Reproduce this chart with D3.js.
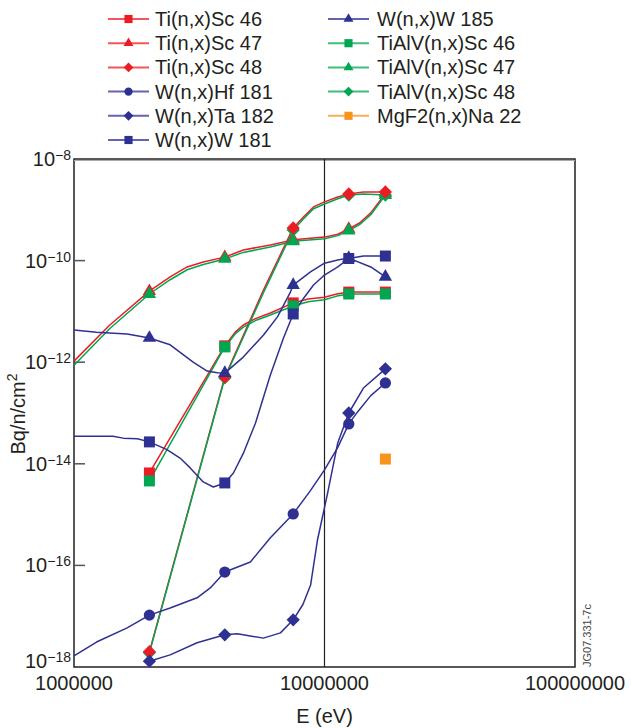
<!DOCTYPE html>
<html>
<head>
<meta charset="utf-8">
<script src="https://cdn.jsdelivr.net/npm/d3@7"></script>
<style>
  html, body { margin: 0; padding: 0; background: #fff; }
  svg { display: block; font-family: "Liberation Sans", Arial, Helvetica, sans-serif; }
</style>
</head>
<body>
<svg id="chart" width="631" height="728"></svg>
<script>
// energies where the markers sit
const markerE = [2e6, 4e6, 7.5e6, 12.5e6, 17.5e6];
const xTicks = [1e6, 1e7, 1e8];
const yTicks = [1e-8, 1e-10, 1e-12, 1e-14, 1e-16, 1e-18];

// [E (eV), Bq/n/cm2]
const tiSc46 = [[2e6,6.6e-15],[4e6,2.1e-12],[4.4e6,3.9e-12],[4.74e6,5.4e-12],[5.3e6,7.2e-12],[6.08e6,9.3e-12],[7.5e6,1.47e-11],[8.6e6,1.75e-11],[1e7,1.9e-11],[11.2e6,2.2e-11],[12.5e6,2.4e-11],[17.5e6,2.4e-11]];
const tiSc47 = [[1e6,1.05e-12],[1.39e6,5.4e-12],[2e6,2.5e-11],[2.42e6,4.8e-11],[2.83e6,7.5e-11],[3.28e6,9.4e-11],[4e6,1.17e-10],[4.74e6,1.62e-10],[6.08e6,2.03e-10],[7.5e6,2.56e-10],[1e7,2.9e-10],[11.3e6,3.3e-10],[12.5e6,4.2e-10],[13.8e6,5.5e-10],[15.3e6,8.7e-10],[17.5e6,2.1e-9]];
const tiSc48 = [[2e6,2.0e-18],[4e6,5.1e-13],[5.7e6,2.6e-11],[7.5e6,4.4e-10],[8.24e6,7.2e-10],[9.04e6,1.14e-9],[1e7,1.43e-9],[11.3e6,1.79e-9],[12.5e6,2.05e-9],[14.3e6,2.24e-9],[17.5e6,2.24e-9]];
const wHf181 = [[1e6,1.65e-18],[1.23e6,3.1e-18],[1.63e6,5.9e-18],[2e6,1.05e-17],[2.42e6,1.45e-17],[3.1e6,2.3e-17],[3.5e6,3.6e-17],[4e6,7.4e-17],[5.06e6,1.17e-16],[6.08e6,3.5e-16],[7.5e6,1.03e-15],[8.8e6,3.0e-15],[1e7,7.6e-15],[11.3e6,2.1e-14],[12.5e6,6.1e-14],[13.55e6,1.05e-13],[15.3e6,2.2e-13],[17.5e6,3.9e-13]];
const wTa182 = [[2e6,1.3e-18],[2.42e6,1.73e-18],[3.1e6,3.0e-18],[4e6,4.3e-18],[4.49e6,4.5e-18],[5.7e6,3.7e-18],[6.67e6,4.7e-18],[7.5e6,8.5e-18],[8.2e6,1.7e-17],[8.8e6,4.1e-17],[9.38e6,3.2e-16],[10.3e6,2.7e-15],[11.3e6,2.6e-14],[12.5e6,1.0e-13],[14.3e6,3.1e-13],[17.5e6,7.4e-13]];
const wW181 = [[1e6,3.5e-14],[1.43e6,3.5e-14],[1.57e6,3.2e-14],[1.79e6,3.1e-14],[2e6,2.7e-14],[2.35e6,1.9e-14],[2.65e6,1.3e-14],[2.91e6,8.3e-15],[3.28e6,4.4e-15],[3.6e6,3.5e-15],[4e6,4.2e-15],[4.33e6,6.6e-15],[4.74e6,1.6e-14],[5.3e6,6.3e-14],[6.08e6,5.6e-13],[6.86e6,3.0e-12],[7.5e6,8.9e-12],[8.24e6,1.8e-11],[9.04e6,3.3e-11],[1e7,5.2e-11],[11.3e6,7.5e-11],[12.5e6,1.1e-10],[14.3e6,1.23e-10],[17.5e6,1.23e-10]];
const wW185 = [[1e6,4.3e-12],[1.23e6,3.9e-12],[1.63e6,3.6e-12],[2e6,3.0e-12],[2.42e6,2.2e-12],[2.99e6,1.0e-12],[3.4e6,6.7e-13],[3.73e6,6.2e-13],[4e6,6.1e-13],[4.74e6,1.26e-12],[5.7e6,3.4e-12],[6.49e6,7.8e-12],[7.31e6,2.4e-11],[7.5e6,3.3e-11],[8.79e6,6.0e-11],[1e7,8.9e-11],[11.3e6,1.03e-10],[12.5e6,1.12e-10],[15.3e6,7.5e-11],[17.5e6,4.8e-11]];
const tialvSc46 = [[2e6,4.6e-15],[4e6,2.0e-12],[4.4e6,3.6e-12],[4.74e6,4.9e-12],[5.3e6,6.6e-12],[6.08e6,8.5e-12],[7.5e6,1.28e-11],[8.6e6,1.55e-11],[1e7,1.7e-11],[11.2e6,2.0e-11],[12.5e6,2.2e-11],[17.5e6,2.2e-11]];
const tialvSc47 = [[1e6,8.7e-13],[1.39e6,4.6e-12],[2e6,2.2e-11],[2.42e6,4.2e-11],[2.83e6,6.6e-11],[3.28e6,8.4e-11],[4e6,1.08e-10],[4.74e6,1.45e-10],[6.08e6,1.85e-10],[7.5e6,2.4e-10],[1e7,2.7e-10],[11.3e6,3.1e-10],[12.5e6,3.9e-10],[13.8e6,5.1e-10],[15.3e6,8.0e-10],[17.5e6,1.95e-9]];
const tialvSc48 = [[2e6,1.9e-18],[4e6,4.9e-13],[5.7e6,2.3e-11],[7.5e6,4.0e-10],[8.24e6,6.6e-10],[9.04e6,1.05e-9],[1e7,1.3e-9],[11.3e6,1.65e-9],[12.5e6,1.95e-9],[14.3e6,2.05e-9],[17.5e6,1.95e-9]];
const mgf2Na22 = [[17.5e6,1.24e-14]];

const RED = "#ED1C24", GREEN = "#00A651", NAVY = "#2E3192", ORANGE = "#F7941D";

const series = [
  { name: "Ti(n,x)Sc 46",     color: RED,    shape: "square",   data: tiSc46 },
  { name: "Ti(n,x)Sc 47",     color: RED,    shape: "triangle", data: tiSc47 },
  { name: "Ti(n,x)Sc 48",     color: RED,    shape: "diamond",  data: tiSc48 },
  { name: "W(n,x)Hf 181",     color: NAVY,   shape: "circle",   data: wHf181 },
  { name: "W(n,x)Ta 182",     color: NAVY,   shape: "diamond",  data: wTa182 },
  { name: "W(n,x)W 181",      color: NAVY,   shape: "square",   data: wW181 },
  { name: "W(n,x)W 185",      color: NAVY,   shape: "triangle", data: wW185 },
  { name: "TiAlV(n,x)Sc 46",  color: GREEN,  shape: "square",   data: tialvSc46 },
  { name: "TiAlV(n,x)Sc 47",  color: GREEN,  shape: "triangle", data: tialvSc47 },
  { name: "TiAlV(n,x)Sc 48",  color: GREEN,  shape: "diamond",  data: tialvSc48 },
  { name: "MgF2(n,x)Na 22",   color: ORANGE, shape: "square",   data: mgf2Na22 }
];
// drawing order: Ti first, green on top of red, navy on top of both
const lineOrder = [0,1,2,7,8,9,3,4,5,6,10];
const markOrder = [0,1,7,8,9,2,3,4,5,6,10];

const svg = d3.select("#chart");
const INK = "#231F20";
const L = 74, R = 575, T = 159, B = 667;

const x = d3.scaleLog().domain([1e6, 1e8]).range([L, R]);
const y = d3.scaleLog().domain([1e-18, 1e-8]).range([B, T]);

function symbolPath(shape, big){
  const k = big ? 1 : 0.55;
  if (shape === "square")   return d3.symbol(d3.symbolSquare, 121*k)();
  if (shape === "diamond")  return d3.symbol(d3.symbolSquare, 88*k)();
  if (shape === "triangle") return d3.symbol(d3.symbolTriangle, 78*k)();
  return d3.symbol(d3.symbolCircle, 100*k)();
}
function symbolRot(shape){ return shape === "diamond" ? " rotate(45)" : ""; }

// frame + vertical line at 10 MeV
svg.append("rect").attr("x", L).attr("y", T).attr("width", R-L).attr("height", B-T)
  .attr("fill", "none").attr("stroke", INK).attr("stroke-width", 1.5);
svg.append("line").attr("x1", L).attr("x2", R).attr("y1", T+1.5).attr("y2", T+1.5)
  .attr("stroke", "#aaa").attr("stroke-width", 1);
svg.append("line").attr("x1", x(1e7)).attr("x2", x(1e7)).attr("y1", T).attr("y2", B)
  .attr("stroke", INK).attr("stroke-width", 1.2);

// y ticks (inside) and labels
yTicks.forEach(v => {
  const ty = y(v);
  if (v < 1e-8 && v > 1e-18) {
    svg.append("line").attr("x1", L).attr("x2", L+11).attr("y1", ty).attr("y2", ty)
      .attr("stroke", "#555").attr("stroke-width", 1.5);
  }
  const base = v === 1e-18 ? ty + 1 : ty + 7;
  const t = svg.append("text").attr("x", 71).attr("y", base).attr("text-anchor", "end")
    .attr("fill", INK).attr("font-size", 20);
  t.append("tspan").text("10");
  t.append("tspan").attr("dy", -6).attr("font-size", 14).text("\u2212" + Math.round(-Math.log10(v)));
});

// x tick labels
xTicks.forEach(v => {
  svg.append("text").attr("x", x(v)).attr("y", 690).attr("text-anchor", "middle")
    .attr("fill", INK).attr("font-size", 20).text(d3.format("d")(v));
});

// axis titles
svg.append("text").attr("x", x(1e7)).attr("y", 723).attr("text-anchor", "middle")
  .attr("fill", INK).attr("font-size", 20).text("E (eV)");
const yl = svg.append("text").attr("transform", "translate(25,414) rotate(-90)")
  .attr("text-anchor", "middle").attr("fill", INK).attr("font-size", 20);
yl.append("tspan").text("Bq/n/cm");
yl.append("tspan").attr("dy", -8).attr("font-size", 14).text("2");

svg.append("text").attr("transform", "translate(591,667) rotate(-90)")
  .attr("fill", "#444").attr("font-size", 11).text("JG07.331-7c");

// curves
const line = d3.line().x(d => x(d[0])).y(d => y(d[1])).curve(d3.curveLinear);
const gLines = svg.append("g");
const gMarks = svg.append("g");
lineOrder.forEach(i => {
  const s = series[i];
  if (s.data.length > 1) {
    gLines.append("path").attr("d", line(s.data)).attr("fill", "none")
      .attr("stroke", s.color).attr("stroke-width", 1.5).attr("stroke-linejoin", "round");
  }
});
markOrder.forEach(i => {
  const s = series[i];
  s.data.filter(d => markerE.includes(d[0])).forEach(d => {
    gMarks.append("path").attr("d", symbolPath(s.shape, true))
      .attr("transform", "translate(" + x(d[0]) + "," + y(d[1]) + ")" + symbolRot(s.shape))
      .attr("fill", s.color);
  });
});

// legend, two columns
const legCols = [{ lx: 108, tx: 155 }, { lx: 328, tx: 377 }];
series.forEach((s, i) => {
  const col = i < 6 ? 0 : 1, row = i < 6 ? i : i - 6;
  const c = legCols[col], cy = 19 + row * 24.2;
  const g = svg.append("g");
  g.append("line").attr("x1", c.lx).attr("x2", c.lx + 41).attr("y1", cy).attr("y2", cy)
    .attr("stroke", s.color).attr("stroke-width", 2).attr("stroke-opacity", 0.75);
  g.append("path").attr("d", symbolPath(s.shape, false))
    .attr("transform", "translate(" + (c.lx + 20.5) + "," + cy + ")" + symbolRot(s.shape))
    .attr("fill", s.color);
  g.append("text").attr("x", c.tx).attr("y", cy + 7).attr("fill", INK)
    .attr("font-size", 20).text(s.name);
});
</script>
</body>
</html>
